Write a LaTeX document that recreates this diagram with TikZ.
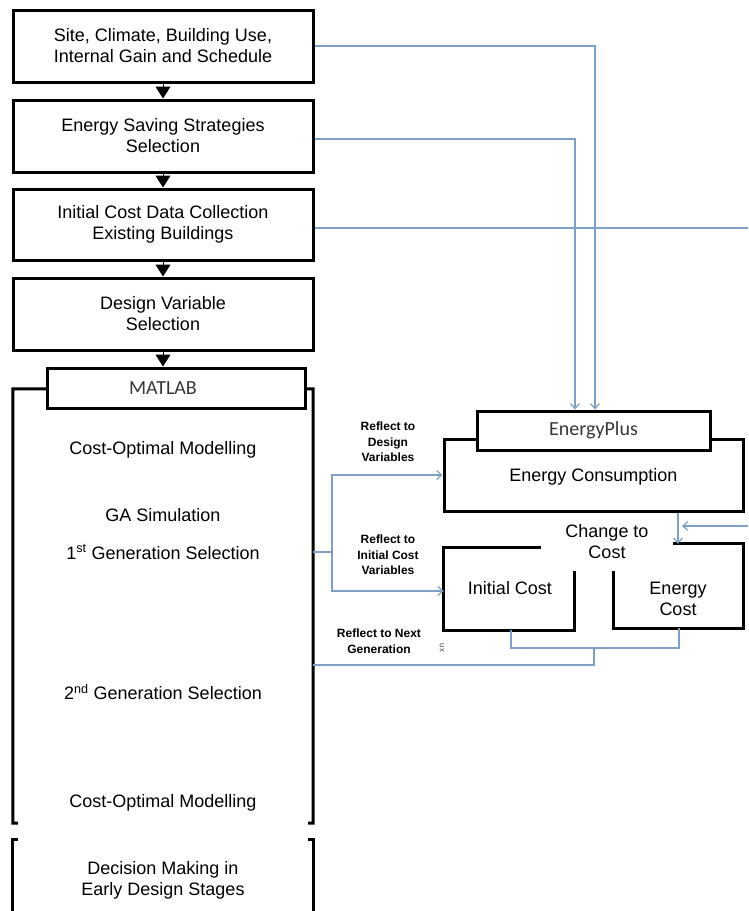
\documentclass[tikz,border=0pt]{standalone}
\usepackage{fontspec}
\setmainfont{Liberation Sans}
\newfontfamily\calfont{Carlito}
\usetikzlibrary{arrows.meta}
\definecolor{flowblue}{RGB}{125,160,200}
\definecolor{tooltext}{RGB}{55,55,55}
\tikzset{
  stage/.style={draw, line width=3pt, minimum width=300pt, minimum height=72pt,
    align=center, font=\fontsize{18}{21}\selectfont, inner sep=0pt},
  tool/.style={draw, fill=white, line width=3pt, inner sep=0pt,
    font=\calfont\fontsize{20}{24}\selectfont, text=tooltext},
  tooltxt/.style={inner sep=0pt, font=\calfont\fontsize{20}{24}\selectfont, text=tooltext},
  txt/.style={align=center, font=\fontsize{18}{21}\selectfont, inner sep=0pt},
  lbl/.style={align=center, font=\bfseries\fontsize{12}{15.5}\selectfont, inner sep=0pt},
  area/.style={minimum width=300pt, inner sep=0pt},
  brk/.style={line width=3pt},
  tri/.style={line width=1pt, -{Triangle[width=15pt,length=12pt]}},
  flow/.style={flowblue, line width=1.2pt},
  flowto/.style={flow, -{Straight Barb[length=5pt,width=9pt]}}
}
\begin{document}
\begin{tikzpicture}[x=1pt,y=-1pt]
  \useasboundingbox (0,0) rectangle (748,911);

  % left column
  \node[stage] (site) at (163,46) {Site, Climate, Building Use,\\Internal Gain and Schedule};
  \node[stage] (saving) at (163,136) {Energy Saving Strategies\\Selection};
  \node[stage, minimum height=71pt] (costdata) at (163,224.5) {Initial Cost Data Collection\\Existing Buildings};
  \node[stage] (designvar) at (163,314) {Design Variable\\Selection};
  \draw[tri] (site.south) -- (saving.north);
  \draw[tri] (saving.south) -- (costdata.north);
  \draw[tri] (costdata.south) -- (designvar.north);

  % MATLAB block
  \node[area, minimum height=434pt] (optim) at (163,606) {};
  \draw[brk] (47,389) -- (optim.north west) -- (optim.south west) -- ++(5,0);
  \draw[brk] (305,389) -- (optim.north east) -- (optim.south east) -- ++(-5,0);
  \node[tool, minimum width=258pt, minimum height=40pt] (matlab) at (176,388) {};
  \node[tooltxt] (matlabtxt) at (163,388) {MATLAB};
  \draw[tri] (designvar.south) -- (matlab.north -| designvar.south);
  \node[txt] (model1) at (163,450) {Cost-Optimal Modelling};
  \node[txt] (gasim) at (163,515) {GA Simulation};
  \node[txt] (gen1) at (163,552) {1\textsuperscript{st} Generation Selection};
  \node[txt] (gen2) at (163,692) {2\textsuperscript{nd} Generation Selection};
  \node[txt] (model2) at (163,803) {Cost-Optimal Modelling};

  % decision
  \node[area, minimum height=80pt] (decision) at (163,880) {};
  \draw[brk] ([xshift=5pt]decision.north west) -- (decision.north west) -- (decision.south west);
  \draw[brk] ([xshift=-5pt]decision.north east) -- (decision.north east) -- (decision.south east);
  \node[txt] (decisiontxt) at (163,880) {Decision Making in\\Early Design Stages};

  % EnergyPlus block
  \node[stage, minimum width=299pt] (cons) at (593.5,475) {};
  \node[txt] (constxt) at (593.5,477) {Energy Consumption};
  \node[tool, minimum width=233pt, minimum height=39pt] (eplus) at (593.5,430.5) {EnergyPlus};
  \node[txt] (change) at (607,542) {Change to\\Cost};

  \node[area, minimum width=130pt, minimum height=82pt] (icost) at (509,589) {};
  \draw[brk] ([xshift=-33pt]icost.north east) -- (icost.north west) -- (icost.south west)
    -- (icost.south east) -- ([yshift=-23pt]icost.north east);
  \node[txt] (icosttxt) at (510,588) {Initial Cost};
  \node[area, minimum width=129pt, minimum height=84pt] (ecost) at (678.5,586) {};
  \draw[brk] ([xshift=59pt]ecost.north west) -- (ecost.north east) -- (ecost.south east)
    -- (ecost.south west) -- ([yshift=-27pt]ecost.north west);
  \node[txt] (ecosttxt) at (678,599) {Energy\\Cost};

  % connectors
  \coordinate (offa) at (748,228);
  \coordinate (offb) at (748,526);
  \coordinate (fb) at (332,552);
  \coordinate (join) at (594,648);
  \draw[flowto] (site.east) -| ([xshift=1.5pt]eplus.north);
  \draw[flowto] ([yshift=-3pt]saving.east) -| ([xshift=-18.5pt]eplus.north);
  \draw[flow] (costdata.east |- offa) -- (offa);
  \draw[flowto] (offb) -- (682,526);
  \draw[flowto] (cons.south -| 678,0) -- (ecost.north -| 678,0);
  \draw[flow] (optim.east |- fb) -- (fb);
  \draw[flowto] (fb) |- (cons.west);
  \draw[flowto] (fb) |- ([yshift=-2pt]icost.west);
  \draw[flow] (icost.south -| 511,0) |- (join) -| (ecost.south -| 679,0);
  \draw[flow] (join) |- (optim.east |- 0,665);

  % labels
  \node[lbl] (lbldesign) at (388,442) {Reflect to\\Design\\Variables};
  \node[lbl] (lblinit) at (388,555) {Reflect to\\Initial Cost\\Variables};
  \node[lbl] (lblnext) at (379,641) {Reflect to Next\\Generation};
  \node[rotate=-90, font=\fontsize{8}{8}\selectfont, text=black!70] (stray) at (442,648) {ux};
\end{tikzpicture}
\end{document}
